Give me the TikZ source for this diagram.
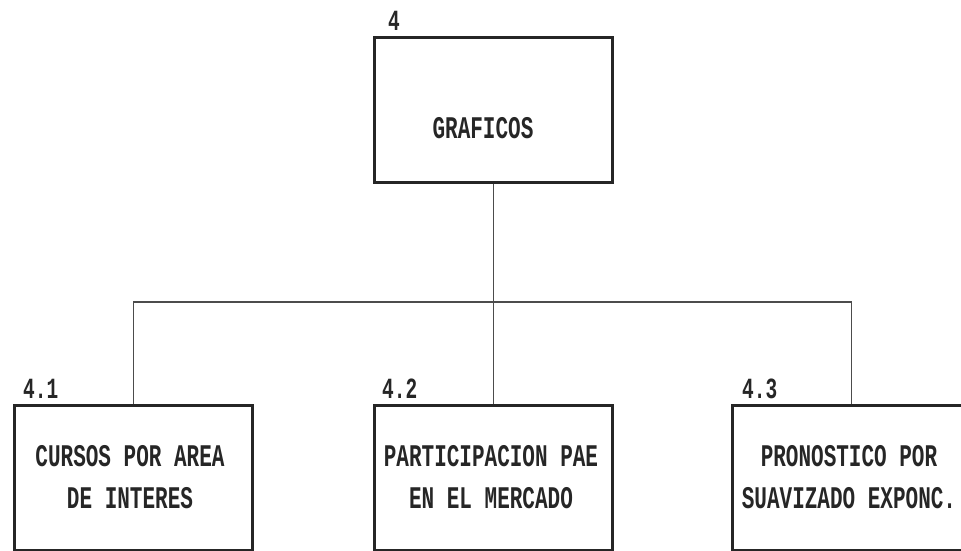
\documentclass[tikz,border=0pt]{standalone}
\usepackage{fontspec}
\setmonofont{Liberation Mono}
\usepackage{graphicx}
\newcommand{\tline}[1]{\scalebox{1}[1.5]{#1}}
\begin{document}
\begin{tikzpicture}[x=1pt,y=-1pt,
  box/.style={draw=black!85, line width=2.6pt, minimum width=238pt, minimum height=145pt, anchor=north west, inner sep=0pt},
  conn/.style={draw=black!70, line width=1.1pt},
  lbl/.style={font=\ttfamily\bfseries\fontsize{21}{42}\selectfont, text=black!85, align=center, inner sep=0pt},
  num/.style={font=\ttfamily\bfseries\fontsize{19.5}{24}\selectfont, text=black!85, anchor=base west, inner sep=0pt}]
\useasboundingbox (0,0) rectangle (961,550);
\clip (0,0) rectangle (961,550);
\node[box] (top) at (373,36) {};
\node[box] (b1) at (13,404) {};
\node[box] (b2) at (373,404) {};
\node[box] (b3) at (731,404) {};
\coordinate (bus) at (0,302);
\draw[conn] (top.south) -- (b2.north);
\draw[conn] (b1.north) -- (b1.north |- bus) -- (b3.north |- bus) -- (b3.north);
\node[lbl] (ttop) at (483,128) {\tline{GRAFICOS}};
\node[lbl] (t1) at (130,477) {\tline{CURSOS POR AREA}\\\tline{DE INTERES}};
\node[lbl] (t2) at (491,477) {\tline{PARTICIPACION PAE}\\\tline{EN EL MERCADO}};
\node[lbl] (t3) at (849,477) {\tline{PRONOSTICO POR}\\\tline{SUAVIZADO EXPONC.}};
\node[num] (n0) at (388,30) {\tline{4}};
\node[num] (n1) at (23,398) {\tline{4.1}};
\node[num] (n2) at (382,398) {\tline{4.2}};
\node[num] (n3) at (742,398) {\tline{4.3}};
\end{tikzpicture}
\end{document}
